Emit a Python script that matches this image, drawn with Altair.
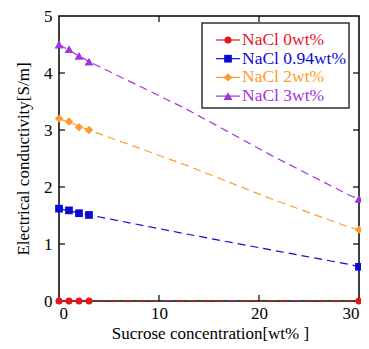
import altair as alt
import pandas as pd

# ---- data ----
series = ["NaCl 0wt%", "NaCl 0.94wt%", "NaCl 2wt%", "NaCl 3wt%"]
colors = ["#e8141c", "#0b0bd8", "#ff9a2a", "#a234d9"]
shapes = ["circle", "square", "diamond", "triangle-up"]
marker_sizes = [49, 81, 90, 80]

x_pts = [0, 1, 2, 3, 30]
y_0 = [0.0, 0.0, 0.0, 0.0, 0.0]
y_094 = [1.62, 1.59, 1.54, 1.51, 0.60]
y_2 = [3.20, 3.15, 3.05, 3.00, 1.25]
y_3 = [4.50, 4.42, 4.30, 4.20, 1.79]

# dashed guide curves
cx_0 = [0, 30]
cy_0 = [0.0, 0.0]
cx_094 = [0, 3, 12.6, 21.4, 29.1, 30]
cy_094 = [1.62, 1.51, 1.18, 0.89, 0.64, 0.60]
cx_2 = [0, 3, 12.6, 21.4, 29.1, 30]
cy_2 = [3.20, 3.00, 2.39, 1.78, 1.29, 1.25]
cx_3 = [0, 3, 12.6, 21.4, 29.1, 30]
cy_3 = [4.50, 4.20, 3.38, 2.54, 1.85, 1.79]

x_ticks = [10, 20]
y_ticks = [1, 2, 3, 4]

W, H = 300, 285
FONT = "Times New Roman, Liberation Serif, serif"

pts = pd.DataFrame(
    [(x, y, s) for s, ys in zip(series, [y_0, y_094, y_2, y_3]) for x, y in zip(x_pts, ys)],
    columns=["x", "y", "series"],
)
curves = pd.DataFrame(
    [(x, y, s, i) for s, xs, ys in zip(series, [cx_0, cx_094, cx_2, cx_3], [cy_0, cy_094, cy_2, cy_3])
     for i, (x, y) in enumerate(zip(xs, ys))],
    columns=["x", "y", "series", "order"],
)

xs = alt.Scale(domain=[0, 30], nice=False, zero=False)
ys = alt.Scale(domain=[0, 5], nice=False)
col = alt.Scale(domain=series, range=colors)
shp = alt.Scale(domain=series, range=shapes)
siz = alt.Scale(domain=series, range=marker_sizes)

X = alt.X("x:Q", scale=xs, axis=alt.Axis(
    values=[0, 10, 20, 30], format="d", title="Sucrose concentration[wt% ]", domain=False, ticks=False,
    grid=False, labelPadding=4, titleX=151, titleY=37, titleBaseline="alphabetic", titleAlign="center"))
Y = alt.Y("y:Q", scale=ys, axis=alt.Axis(
    values=[0, 1, 2, 3, 4, 5], format="d", title="Electrical conductivity[S/m]", domain=False, ticks=False,
    grid=False, labelPadding=7, titleX=-31, titleY=H / 2, titleBaseline="alphabetic", titleAlign="center"))

lines = alt.Chart(curves).mark_line(strokeDash=[8, 5], strokeWidth=1.2).encode(
    x=X, y=Y, color=alt.Color("series:N", scale=col, legend=None), order="order:Q",
    detail="series:N")

points = alt.Chart(pts).mark_point(filled=True, opacity=1, clip=False).encode(
    x=alt.X("x:Q", scale=xs), y=alt.Y("y:Q", scale=ys),
    color=alt.Color("series:N", scale=col, legend=None),
    shape=alt.Shape("series:N", scale=shp, legend=None),
    size=alt.Size("series:N", scale=siz, legend=None))

xt = pd.DataFrame({"t": x_ticks})
yt = pd.DataFrame({"t": y_ticks})
tick_b = alt.Chart(xt).mark_rule(color="black", strokeWidth=1.2).encode(
    x=alt.X("t:Q", scale=xs), y=alt.value(H), y2=alt.value(H - 6))
tick_t = alt.Chart(xt).mark_rule(color="black", strokeWidth=1.2).encode(
    x=alt.X("t:Q", scale=xs), y=alt.value(0), y2=alt.value(6))
tick_l = alt.Chart(yt).mark_rule(color="black", strokeWidth=1.2).encode(
    y=alt.Y("t:Q", scale=ys), x=alt.value(0), x2=alt.value(6))
tick_r = alt.Chart(yt).mark_rule(color="black", strokeWidth=1.2).encode(
    y=alt.Y("t:Q", scale=ys), x=alt.value(W), x2=alt.value(W - 6))

# ---- hand-built legend ----
leg = pd.DataFrame({"series": series, "i": list(range(len(series)))})
box = alt.Chart(pd.DataFrame({"a": [0]})).mark_rect(
    fill="white", stroke="#333333", strokeWidth=1.5).encode(
    x=alt.value(143), x2=alt.value(290), y=alt.value(7), y2=alt.value(92))
base_leg = alt.Chart(leg).transform_calculate(ly="24 + 18.7*datum.i")
leg_line = base_leg.mark_rule(strokeWidth=1.2).encode(
    x=alt.value(157), x2=alt.value(181), y=alt.Y("ly:Q", scale=None),
    color=alt.Color("series:N", scale=col, legend=None))
leg_pt = base_leg.mark_point(filled=True, opacity=1).encode(
    x=alt.value(169), y=alt.Y("ly:Q", scale=None),
    color=alt.Color("series:N", scale=col, legend=None),
    shape=alt.Shape("series:N", scale=shp, legend=None),
    size=alt.Size("series:N", scale=siz, legend=None))
leg_txt = base_leg.mark_text(align="left", baseline="middle", font=FONT, fontSize=17.5, dx=0).encode(
    x=alt.value(183), y=alt.Y("ly:Q", scale=None), text="series:N",
    color=alt.Color("series:N", scale=col, legend=None))

chart = alt.layer(lines, points, tick_b, tick_t, tick_l, tick_r, box, leg_line, leg_pt, leg_txt).properties(
    width=W, height=H,
    autosize=alt.AutoSizeParams(type="none"),
    padding={"left": 51, "top": 8, "right": 2, "bottom": 40},
).configure_view(stroke="black", strokeWidth=1.5).configure_axis(
    labelFont=FONT, labelFontSize=17, labelColor="black",
    titleFont=FONT, titleFontSize=17, titleFontWeight="normal", titleColor="black",
)

chart.save("out.html", embed_options={"renderer": "svg", "actions": False})
